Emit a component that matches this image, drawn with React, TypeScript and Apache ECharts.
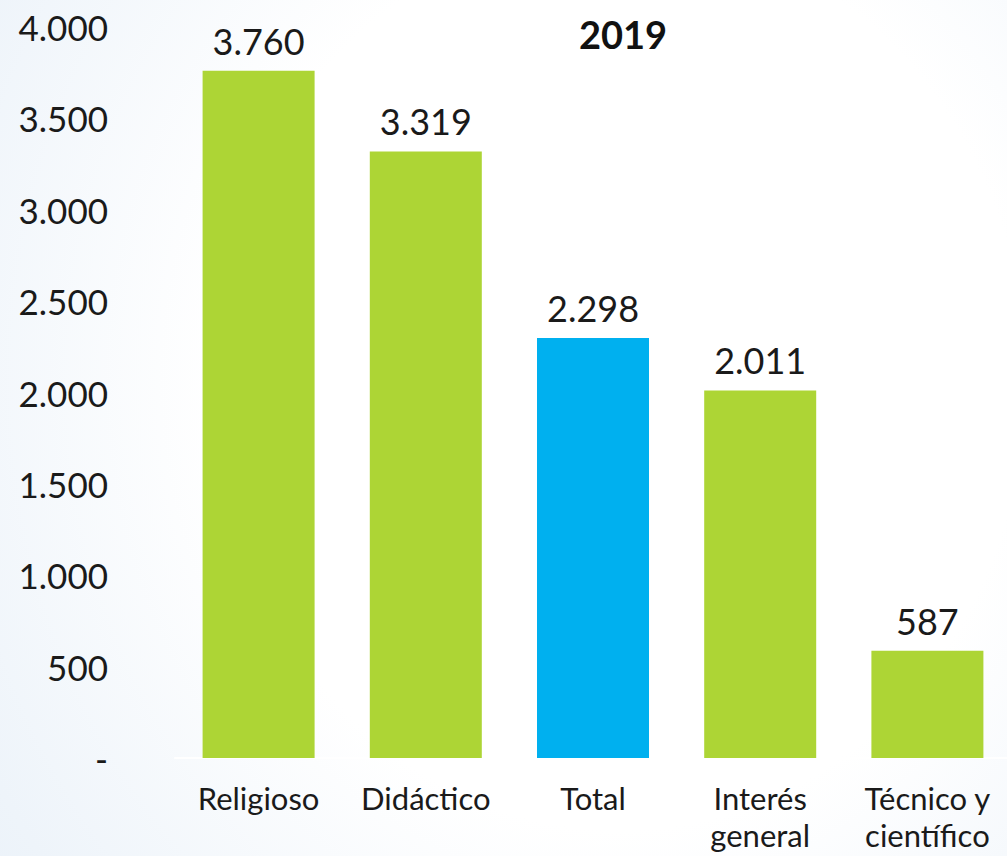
import React, { useEffect, useRef } from "react";
import * as echarts from "echarts";

const categories = ["Religioso", "Didáctico", "Total", "Interés\ngeneral", "Técnico y\ncientífico"];
const values = [3760, 3319, 2298, 2011, 587];
const barColors = ["#add535", "#add535", "#00b0ef", "#add535", "#add535"];
const titleText = "2019";

const fmt = (v: number) => (v === 0 ? "-" : v.toString().replace(/\B(?=(\d{3})+(?!\d))/g, "."));

export default function App() {
  const ref = useRef<HTMLDivElement>(null);
  useEffect(() => {
    document.body.style.margin = "0";
    const chart = echarts.init(ref.current!, undefined, { renderer: "svg" });
    const font = "Lato";
    chart.setOption({
      animation: false,
      backgroundColor: "transparent",
      title: {
        text: titleText,
        left: 618,
        top: 10,
        textAlign: "center",
        textStyle: { fontFamily: font, fontWeight: "bold", fontSize: 38, color: "#111" },
      },
      grid: { left: 175, top: 27, width: 836, height: 731, outerBoundsMode: "none", containLabel: false },
      xAxis: {
        type: "category",
        data: categories,
        axisLine: { show: true, lineStyle: { color: "#ffffff", width: 2 } },
        axisTick: { show: false },
        axisLabel: {
          fontFamily: font,
          fontSize: 31,
          color: "#1a1a1a",
          margin: 21,
          lineHeight: 37,
          interval: 0,
        },
      },
      yAxis: {
        type: "value",
        min: 0,
        max: 4000,
        interval: 500,
        splitLine: { show: false },
        axisLine: { show: false },
        axisTick: { show: false },
        axisLabel: {
          fontFamily: font,
          fontSize: 35,
          color: "#1a1a1a",
          margin: 67,
          formatter: (v: number) => fmt(v),
        },
      },
      series: [
        {
          type: "bar",
          barWidth: 112,
          data: values.map((v, i) => ({ value: v, itemStyle: { color: barColors[i] } })),
          label: {
            show: true,
            position: "top",
            distance: 12,
            fontFamily: font,
            fontSize: 36,
            color: "#1a1a1a",
            formatter: (p: any) => fmt(p.value),
          },
        },
      ],
    });
    return () => chart.dispose();
  }, []);
  return (
    <div
      style={{
        position: "absolute",
        left: 0,
        top: 0,
        width: 1007,
        height: 856,
        background:
          "radial-gradient(ellipse 900px 1000px at 620px 380px, #ffffff 45%, #eef4fa 80%, #e6eff8 100%)",
      }}
    >
      <div ref={ref} style={{ width: 1007, height: 856 }} />
    </div>
  );
}
